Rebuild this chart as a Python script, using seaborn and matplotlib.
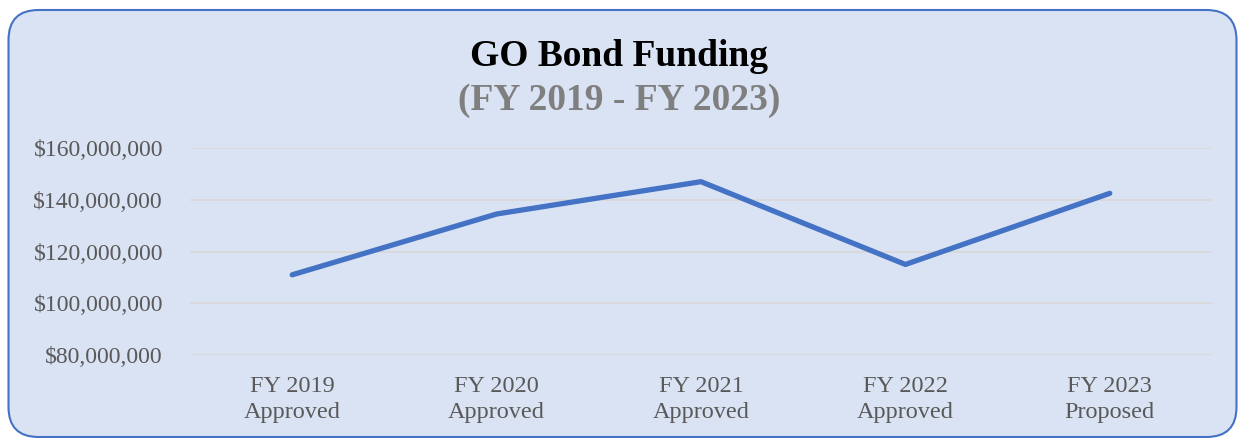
import matplotlib
matplotlib.use('Agg')
import matplotlib.pyplot as plt
from matplotlib.patches import FancyBboxPatch
from matplotlib.ticker import FuncFormatter
import pandas as pd
import seaborn as sns

# chart data
years = ["FY 2019\nApproved", "FY 2020\nApproved", "FY 2021\nApproved",
         "FY 2022\nApproved", "FY 2023\nProposed"]
funding = [111000000, 134500000, 147000000, 115000000, 142500000]
y_ticks = [80000000, 100000000, 120000000, 140000000, 160000000]

BG = "#DAE3F3"
BLUE = "#4472C4"
GREY = "#595959"

sns.set_theme(style="white")
plt.rcParams['font.family'] = ['Liberation Serif', 'DejaVu Serif']

df = pd.DataFrame({"year": years, "funding": funding})

fig = plt.figure(figsize=(12.38, 4.38), dpi=100)
fig.patch.set_facecolor("white")

# rounded panel behind everything
panel = FancyBboxPatch((0.085, 0.01), 12.28, 4.27,
                       boxstyle="round,pad=0,rounding_size=0.3",
                       transform=fig.dpi_scale_trans,
                       facecolor=BG, edgecolor=BLUE, linewidth=1.5, zorder=-10)
fig.patches.append(panel)

ax = fig.add_axes([0.1535, 0.1895, 0.8255, 0.4725])
ax.set_facecolor("none")
ax.set_zorder(1)

sns.lineplot(data=df, x="year", y="funding", ax=ax, color=BLUE,
             linewidth=3.8, solid_capstyle="round", sort=False)

ax.set_ylim(y_ticks[0], y_ticks[-1])
ax.set_xlim(-0.5, len(years) - 0.5)
ax.set_yticks(y_ticks)
ax.yaxis.set_major_formatter(FuncFormatter(lambda v, p: "${:,.0f}".format(v)))
ax.grid(axis="y", color="#D9D9D9", linewidth=1.3)
ax.set_axisbelow(True)
for s in ax.spines.values():
    s.set_visible(False)
ax.tick_params(axis="y", length=0, pad=19.5, labelsize=17, labelcolor=GREY)
ax.tick_params(axis="x", length=0, pad=15, labelsize=17.5, labelcolor=GREY)
for t in ax.get_xticklabels():
    t.set_linespacing(1.35)
ax.set_xlabel("")
ax.set_ylabel("")

fig.text(0.5, 0.87, "GO Bond Funding", ha="center", va="center",
         fontsize=27, fontweight="bold", color="black")
fig.text(0.5, 0.77, "(FY 2019 - FY 2023)", ha="center", va="center",
         fontsize=27, fontweight="bold", color="#7F7F7F")

fig.savefig("out.png", dpi=100)
